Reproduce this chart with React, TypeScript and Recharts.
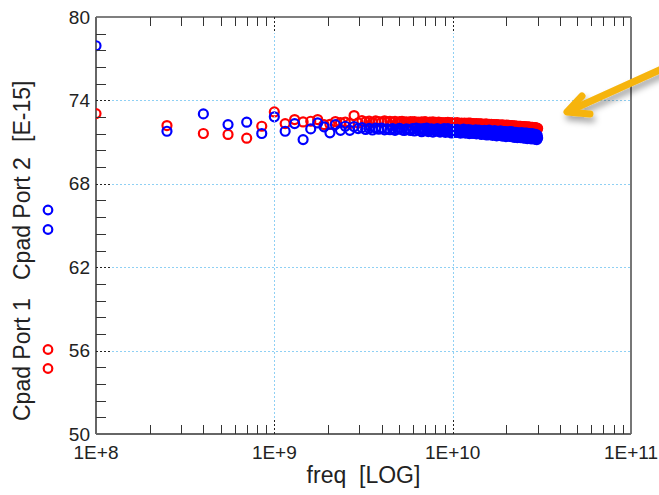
import React from 'react';
import { ScatterChart, Scatter, XAxis, YAxis, ReferenceLine } from 'recharts';

// Frequency sweep in GHz (100 MHz .. 29.95 GHz)
const freqGHz = [
  0.1, 0.25, 0.4, 0.55, 0.7, 0.85, 1, 1.15, 1.3, 1.45,
  1.6, 1.75, 1.9, 2.05, 2.2, 2.35, 2.5, 2.65, 2.8, 2.95,
  3.1, 3.25, 3.4, 3.55, 3.7, 3.85, 4, 4.15, 4.3, 4.45,
  4.6, 4.75, 4.9, 5.05, 5.2, 5.35, 5.5, 5.65, 5.8, 5.95,
  6.1, 6.25, 6.4, 6.55, 6.7, 6.85, 7, 7.15, 7.3, 7.45,
  7.6, 7.75, 7.9, 8.05, 8.2, 8.35, 8.5, 8.65, 8.8, 8.95,
  9.1, 9.25, 9.4, 9.55, 9.7, 9.85, 10, 10.15, 10.3, 10.45,
  10.6, 10.75, 10.9, 11.05, 11.2, 11.35, 11.5, 11.65, 11.8, 11.95,
  12.1, 12.25, 12.4, 12.55, 12.7, 12.85, 13, 13.15, 13.3, 13.45,
  13.6, 13.75, 13.9, 14.05, 14.2, 14.35, 14.5, 14.65, 14.8, 14.95,
  15.1, 15.25, 15.4, 15.55, 15.7, 15.85, 16, 16.15, 16.3, 16.45,
  16.6, 16.75, 16.9, 17.05, 17.2, 17.35, 17.5, 17.65, 17.8, 17.95,
  18.1, 18.25, 18.4, 18.55, 18.7, 18.85, 19, 19.15, 19.3, 19.45,
  19.6, 19.75, 19.9, 20.05, 20.2, 20.35, 20.5, 20.65, 20.8, 20.95,
  21.1, 21.25, 21.4, 21.55, 21.7, 21.85, 22, 22.15, 22.3, 22.45,
  22.6, 22.75, 22.9, 23.05, 23.2, 23.35, 23.5, 23.65, 23.8, 23.95,
  24.1, 24.25, 24.4, 24.55, 24.7, 24.85, 25, 25.15, 25.3, 25.45,
  25.6, 25.75, 25.9, 26.05, 26.2, 26.35, 26.5, 26.65, 26.8, 26.95,
  27.1, 27.25, 27.4, 27.55, 27.7, 27.85, 28, 28.15, 28.3, 28.45,
  28.6, 28.75, 28.9, 29.05, 29.2, 29.35, 29.5, 29.65, 29.8, 29.95,
];

// Cpad Port 1 [E-15] (red)
const port1 = [
  73.05, 72.19, 71.62, 71.55, 71.28, 72.14, 73.17, 72.33, 72.62, 72.45,
  72.50, 72.62, 72.26, 72.28, 72.48, 72.40, 72.44, 72.33, 72.91, 72.38,
  72.54, 72.46, 72.51, 72.42, 72.52, 72.48, 72.43, 72.53, 72.45, 72.50,
  72.43, 72.50, 72.41, 72.47, 72.50, 72.43, 72.46, 72.40, 72.47, 72.43,
  72.47, 72.41, 72.44, 72.38, 72.45, 72.39, 72.47, 72.42, 72.38, 72.43,
  72.39, 72.45, 72.36, 72.42, 72.38, 72.43, 72.34, 72.41, 72.38, 72.35,
  72.41, 72.33, 72.42, 72.36, 72.39, 72.31, 72.40, 72.34, 72.36, 72.32,
  72.40, 72.33, 72.35, 72.30, 72.37, 72.33, 72.28, 72.37, 72.31, 72.34,
  72.29, 72.36, 72.30, 72.36, 72.27, 72.33, 72.28, 72.33, 72.25, 72.30,
  72.33, 72.26, 72.31, 72.23, 72.31, 72.27, 72.32, 72.23, 72.28, 72.25,
  72.28, 72.22, 72.31, 72.23, 72.26, 72.20, 72.28, 72.24, 72.21, 72.28,
  72.21, 72.26, 72.18, 72.26, 72.21, 72.24, 72.18, 72.26, 72.18, 72.22,
  72.25, 72.18, 72.21, 72.15, 72.22, 72.16, 72.24, 72.18, 72.20, 72.14,
  72.21, 72.13, 72.19, 72.22, 72.14, 72.16, 72.11, 72.20, 72.14, 72.17,
  72.11, 72.17, 72.13, 72.19, 72.11, 72.16, 72.08, 72.14, 72.17, 72.10,
  72.14, 72.09, 72.16, 72.09, 72.12, 72.05, 72.13, 72.09, 72.14, 72.05,
  72.14, 72.07, 72.10, 72.04, 72.11, 72.07, 72.09, 72.02, 72.11, 72.04,
  72.04, 72.10, 72.01, 72.07, 72.05, 72.08, 72.01, 72.09, 72.03, 72.06,
  72.06, 72.00, 72.04, 71.97, 72.06, 72.00, 72.07, 72.00, 72.03, 71.97,
  72.04, 71.98, 72.02, 71.95, 72.02, 71.98, 72.00, 71.95, 72.00, 71.98,
];

// Cpad Port 2 [E-15] (blue)
const port2 = [
  77.93, 71.78, 73.03, 72.26, 72.43, 71.62, 72.82, 71.78, 72.33, 71.18,
  71.95, 72.38, 72.10, 71.67, 72.26, 71.85, 72.14, 71.85, 72.12, 71.97,
  72.04, 71.91, 71.99, 71.87, 72.01, 71.93, 72.01, 71.88, 71.95, 71.89,
  71.98, 71.85, 71.94, 71.99, 71.88, 71.84, 71.95, 71.91, 71.84, 71.98,
  71.80, 72.01, 71.86, 71.95, 71.75, 71.97, 71.82, 72.00, 71.76, 71.89,
  71.96, 71.72, 71.91, 71.78, 71.98, 71.83, 71.72, 71.92, 71.79, 71.97,
  71.70, 71.89, 71.97, 71.73, 71.84, 71.66, 71.92, 71.77, 71.88, 71.69,
  71.92, 71.73, 71.82, 71.65, 71.87, 71.68, 71.93, 71.75, 71.65, 71.84,
  71.68, 71.90, 71.61, 71.80, 71.86, 71.71, 71.62, 71.83, 71.68, 71.89,
  71.59, 71.80, 71.69, 71.87, 71.62, 71.83, 71.55, 71.75, 71.63, 71.80,
  71.85, 71.57, 71.74, 71.51, 71.78, 71.63, 71.86, 71.53, 71.69, 71.58,
  71.78, 71.49, 71.74, 71.61, 71.83, 71.52, 71.67, 71.45, 71.78, 71.56,
  71.48, 71.73, 71.56, 71.81, 71.51, 71.66, 71.43, 71.74, 71.58, 71.76,
  71.51, 71.76, 71.40, 71.65, 71.70, 71.44, 71.60, 71.49, 71.75, 71.41,
  71.70, 71.51, 71.75, 71.39, 71.62, 71.44, 71.70, 71.34, 71.58, 71.46,
  71.71, 71.39, 71.59, 71.32, 71.63, 71.49, 71.67, 71.39, 71.52, 71.32,
  71.60, 71.43, 71.69, 71.34, 71.53, 71.62, 71.29, 71.56, 71.37, 71.64,
  71.31, 71.51, 71.37, 71.65, 71.25, 71.57, 71.41, 71.60, 71.31, 71.47,
  71.61, 71.32, 71.50, 71.23, 71.55, 71.36, 71.61, 71.26, 71.43, 71.28,
  71.54, 71.22, 71.48, 71.34, 71.56, 71.24, 71.42, 71.18, 71.48, 71.29,
];

const xTickValues = [
  0.1, 0.2, 0.3, 0.4, 0.5, 0.6, 0.7, 0.8, 0.9,
  1, 2, 3, 4, 5, 6, 7, 8, 9,
  10, 20, 30, 40, 50, 60, 70, 80, 90,
  100,
];
const xMajorTicks = [0.1, 1, 10, 100];
const xTickLabels = ['1E+8', '1E+9', '1E+10', '1E+11'];

const yTickValues = [
  50, 51.2, 52.4, 53.6, 54.8, 56, 57.2, 58.4, 59.6, 60.8, 62, 63.2, 64.4,
  65.6, 66.8, 68, 69.2, 70.4, 71.6, 72.8, 74, 75.2, 76.4, 77.6, 78.8, 80,
];
const yMajorTicks = [50, 56, 62, 68, 74, 80];

const seriesNames = ['Cpad Port 1', 'Cpad Port 2'];
const unitLabel = '[E-15]';
const xAxisTitle = 'freq  [LOG]';

const port1Points = freqGHz.map((f, i) => ({ f, v: port1[i] }));
const port2Points = freqGHz.map((f, i) => ({ f, v: port2[i] }));

const W = 659;
const H = 495;
const MARGIN = { top: 17, right: 28, bottom: 0, left: 0 };
const Y_AXIS_W = 96;
const X_AXIS_H = 61;
const PLOT_W = W - MARGIN.left - MARGIN.right - Y_AXIS_W;
const PLOT_H = H - MARGIN.top - MARGIN.bottom - X_AXIS_H;
const FONT = '"Liberation Sans", Arial, Helvetica, sans-serif';
const GRID = '#8fd0f4';
const TICK = '#333';
const RED = '#ff0000';
const BLUE = '#0000ff';

const findMajor = (list: number[], v: number) =>
  list.findIndex((m) => Math.abs(m - v) < 1e-9);
const crisp = (v: number) => Math.round(v) + 0.5;

function XTick(props: any) {
  const { y, payload } = props;
  const x = crisp(props.x);
  const idx = findMajor(xMajorTicks, payload.value);
  const top = y - PLOT_H;
  if (idx < 0) {
    return (
      <g>
        <line x1={x} x2={x} y1={y} y2={y - 9} stroke={TICK} strokeWidth={1} />
        <line x1={x} x2={x} y1={top} y2={top + 9} stroke={TICK} strokeWidth={1} />
      </g>
    );
  }
  const edge = idx === 0 || idx === xMajorTicks.length - 1;
  return (
    <g>
      {!edge && (
        <>
          <line x1={x} x2={x} y1={y - 16} y2={top + 16} stroke={GRID} strokeWidth={1} strokeDasharray="2 2" />
          <line x1={x} x2={x} y1={y} y2={y - 16} stroke="#222" strokeWidth={1} strokeDasharray="2 2" />
          <line x1={x} x2={x} y1={top} y2={top + 16} stroke="#222" strokeWidth={1} strokeDasharray="2 2" />
        </>
      )}
      <text x={props.x} y={y + 25} textAnchor="middle" fontSize={19} fill="#222" fontFamily={FONT}>
        {xTickLabels[idx]}
      </text>
    </g>
  );
}

function YTick(props: any) {
  const { x, payload } = props;
  const y = crisp(props.y);
  const idx = findMajor(yMajorTicks, payload.value);
  if (idx < 0) {
    return <line x1={x} x2={x + 10} y1={y} y2={y} stroke={TICK} strokeWidth={1} />;
  }
  const edge = idx === 0 || idx === yMajorTicks.length - 1;
  return (
    <g>
      {!edge && (
        <>
          <line x1={x + 16} x2={x + PLOT_W} y1={y} y2={y} stroke={GRID} strokeWidth={1} strokeDasharray="2 2" />
          <line x1={x} x2={x + 16} y1={y} y2={y} stroke="#222" strokeWidth={1} strokeDasharray="2 2" />
        </>
      )}
      <text x={x - 6} y={props.y} dy="0.35em" textAnchor="end" fontSize={19} fill="#222" fontFamily={FONT}>
        {yMajorTicks[idx]}
      </text>
    </g>
  );
}

function YLabel() {
  const bx = 30;
  return (
    <g fontFamily={FONT} fontSize={23} fill="#222">
      <text transform={`translate(${bx},421) rotate(-90)`}>{seriesNames[0]}</text>
      <text transform={`translate(${bx},280) rotate(-90)`}>{seriesNames[1]}</text>
      <text transform={`translate(${bx},142) rotate(-90)`}>{unitLabel}</text>
      <circle cx={48} cy={349.5} r={4.3} fill="none" stroke={RED} strokeWidth={2.2} />
      <circle cx={48} cy={368.5} r={4.3} fill="none" stroke={RED} strokeWidth={2.2} />
      <circle cx={48} cy={210} r={4.3} fill="none" stroke={BLUE} strokeWidth={2.2} />
      <circle cx={48} cy={229.5} r={4.3} fill="none" stroke={BLUE} strokeWidth={2.2} />
    </g>
  );
}

function XLabel() {
  return (
    <text
      x={MARGIN.left + Y_AXIS_W + PLOT_W / 2}
      y={483}
      textAnchor="middle"
      fontSize={23}
      fill="#222"
      fontFamily={FONT}
      style={{ whiteSpace: 'pre' }}
    >
      {xAxisTitle}
    </text>
  );
}

const redShape = (p: any) => (
  <circle cx={p.cx} cy={p.cy} r={4.5} fill="none" stroke={RED} strokeWidth={2.2} />
);
const blueShape = (p: any) => (
  <circle cx={p.cx} cy={p.cy} r={4.5} fill="none" stroke={BLUE} strokeWidth={2.2} />
);

function Arrow() {
  return (
    <svg
      width={W}
      height={H}
      style={{ position: 'absolute', left: 0, top: 0, pointerEvents: 'none' }}
    >
      <defs>
        <filter id="arrowShadow" x="-20%" y="-20%" width="140%" height="160%">
          <feDropShadow dx="2" dy="5" stdDeviation="3" floodColor="#000" floodOpacity="0.35" />
        </filter>
      </defs>
      <g filter="url(#arrowShadow)" stroke="#f6b40c" strokeWidth={7} strokeLinecap="round" strokeLinejoin="round" fill="none">
        <line x1={664} y1={68} x2={569} y2={111} />
        <polyline points="582,96 567,112 590,114" />
      </g>
    </svg>
  );
}

export default function App() {
  return (
    <div style={{ position: 'absolute', left: 0, top: 0, width: W, height: H, background: '#fff' }}>
      <ScatterChart width={W} height={H} margin={MARGIN}>
        <XAxis
          dataKey="f"
          type="number"
          scale="log"
          domain={[0.1, 100]}
          allowDataOverflow
          ticks={xTickValues}
          interval={0}
          tickSize={0}
          tickMargin={0}
          tickLine={false}
          tick={XTick}
          axisLine={{ stroke: '#666', strokeWidth: 2 }}
          height={X_AXIS_H}
          label={<XLabel />}
        />
        <YAxis
          dataKey="v"
          type="number"
          domain={[50, 80]}
          allowDataOverflow
          ticks={yTickValues}
          interval={0}
          tickSize={0}
          tickMargin={0}
          tickLine={false}
          tick={YTick}
          axisLine={{ stroke: '#666', strokeWidth: 2 }}
          width={Y_AXIS_W}
          label={<YLabel />}
        />
        <ReferenceLine y={80} stroke="#555" strokeWidth={1.5} />
        <ReferenceLine x={100} stroke="#777" strokeWidth={2} />
        <Scatter name={seriesNames[0]} data={port1Points} shape={redShape} isAnimationActive={false} />
        <Scatter name={seriesNames[1]} data={port2Points} shape={blueShape} isAnimationActive={false} />
      </ScatterChart>
      <Arrow />
    </div>
  );
}
